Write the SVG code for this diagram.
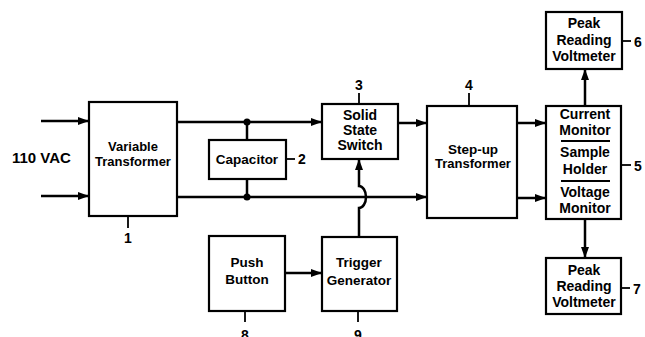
<svg xmlns="http://www.w3.org/2000/svg" width="645" height="337" viewBox="0 0 645 337">
<defs>
<marker id="ah" markerUnits="userSpaceOnUse" markerWidth="12" markerHeight="10" refX="11" refY="5" orient="auto">
<path d="M0,1 L11,5 L0,9 Z" fill="#000"/>
</marker>
<style>
.box{fill:#fff;stroke:#000;stroke-width:2.2}
.w{fill:none;stroke:#000;stroke-width:2.5}
.t{font-family:"Liberation Sans",Arial,sans-serif;font-weight:bold;font-size:13.5px;text-anchor:middle;fill:#000}
.b{font-size:14px}
.n{font-family:"Liberation Sans",Arial,sans-serif;font-weight:bold;font-size:14px;fill:#000}
.tk{stroke:#000;stroke-width:1.8}
</style>
</defs>
<rect width="645" height="337" fill="#fff"/>
<text class="n" x="12" y="163" style="font-size:15px">110 VAC</text>
<g id="connectors">
<line class="w" x1="41" y1="121" x2="89" y2="121" marker-end="url(#ah)"/>
<line class="w" x1="41" y1="196" x2="89" y2="196" marker-end="url(#ah)"/>
<line class="w" x1="177" y1="122" x2="322" y2="122" marker-end="url(#ah)"/>
<line class="w" x1="177" y1="197" x2="427" y2="197" marker-end="url(#ah)"/>
<line class="w" x1="247" y1="122" x2="247" y2="140"/>
<line class="w" x1="247" y1="179" x2="247" y2="197"/>
<circle cx="247" cy="122" r="3.5" fill="#000"/>
<circle cx="247" cy="197" r="3.5" fill="#000"/>
<line class="w" x1="398" y1="123" x2="427" y2="123" marker-end="url(#ah)"/>
<line class="w" x1="517" y1="123" x2="546" y2="123" marker-end="url(#ah)"/>
<line class="w" x1="517" y1="198" x2="546" y2="198" marker-end="url(#ah)"/>
<line class="w" x1="285" y1="273" x2="322" y2="273" marker-end="url(#ah)"/>
<path class="w" d="M359,237 V208 A7 11 0 0 0 359,186 V159" marker-end="url(#ah)"/>
<line class="w" x1="585" y1="106" x2="585" y2="69" marker-end="url(#ah)"/>
<line class="w" x1="585" y1="219" x2="585" y2="258" marker-end="url(#ah)"/>
</g>
<g id="n1">
<rect class="box" x="89" y="102" width="88" height="114"/>
<text class="t" x="133" y="151" style="font-size:13px">Variable</text>
<text class="t" x="133" y="166" style="font-size:13px">Transformer</text>
<line class="tk" x1="128" y1="216" x2="128" y2="228"/>
<text class="n" x="128" y="243" text-anchor="middle">1</text>
</g>
<g id="n2">
<rect class="box" x="209" y="140" width="77" height="39"/>
<text class="t" x="247" y="164">Capacitor</text>
<line class="tk" x1="287" y1="159" x2="295" y2="159"/>
<text class="n" x="298" y="164">2</text>
</g>
<g id="n3">
<rect class="box" x="322" y="104" width="76" height="55"/>
<text class="t b" x="360" y="120">Solid</text>
<text class="t b" x="360" y="135">State</text>
<text class="t b" x="360" y="150">Switch</text>
<line class="tk" x1="359" y1="93" x2="359" y2="104"/>
<text class="n" x="359" y="90" text-anchor="middle">3</text>
</g>
<g id="n4">
<rect class="box" x="427" y="106" width="90" height="112"/>
<text class="t" x="473" y="154">Step-up</text>
<text class="t" x="473" y="168" style="font-size:13px">Transformer</text>
<line class="tk" x1="469" y1="93" x2="469" y2="106"/>
<text class="n" x="469" y="90" text-anchor="middle">4</text>
</g>
<g id="n5">
<rect class="box" x="546" y="106" width="75" height="113"/>
<text class="t b" x="585" y="119">Current</text>
<text class="t b" x="585" y="135">Monitor</text>
<line class="tk" x1="561" y1="141" x2="610" y2="141"/>
<text class="t b" x="585" y="157">Sample</text>
<text class="t b" x="585" y="174">Holder</text>
<line class="tk" x1="561" y1="181" x2="610" y2="181"/>
<text class="t b" x="585" y="197">Voltage</text>
<text class="t b" x="585" y="213">Monitor</text>
<line class="tk" x1="622" y1="165" x2="631" y2="165"/>
<text class="n" x="634" y="171">5</text>
</g>
<g id="n6">
<rect class="box" x="546" y="12" width="76" height="57"/>
<text class="t b" x="584" y="28">Peak</text>
<text class="t b" x="584" y="45">Reading</text>
<text class="t b" x="584" y="61">Voltmeter</text>
<line class="tk" x1="623" y1="41" x2="631" y2="41"/>
<text class="n" x="634" y="47">6</text>
</g>
<g id="n7">
<rect class="box" x="546" y="258" width="75" height="56"/>
<text class="t b" x="584" y="275">Peak</text>
<text class="t b" x="584" y="291">Reading</text>
<text class="t b" x="584" y="307">Voltmeter</text>
<line class="tk" x1="622" y1="288" x2="630" y2="288"/>
<text class="n" x="633" y="294">7</text>
</g>
<g id="n8">
<rect class="box" x="209" y="236" width="76" height="75"/>
<text class="t" x="247" y="267">Push</text>
<text class="t" x="247" y="284">Button</text>
<line class="tk" x1="245" y1="311" x2="245" y2="322"/>
<text class="n" x="245" y="340" text-anchor="middle">8</text>
</g>
<g id="n9">
<rect class="box" x="322" y="237" width="75" height="74"/>
<text class="t" x="359" y="267">Trigger</text>
<text class="t" x="359" y="285">Generator</text>
<line class="tk" x1="358" y1="311" x2="358" y2="322"/>
<text class="n" x="358" y="340" text-anchor="middle">9</text>
</g>
</svg>
